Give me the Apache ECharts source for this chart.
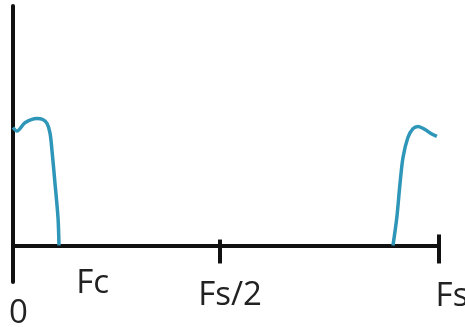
<!DOCTYPE html>
<html><head><meta charset="utf-8">
<script src="https://cdn.jsdelivr.net/npm/echarts@6/dist/echarts.min.js"></script>
<style>html,body{margin:0;padding:0;background:#fff}#c{width:465px;height:327px}</style>
</head><body><div id="c"></div>
<script>
// Frequency axis: 0 .. Fs mapped to 0 .. 100
const tickLabels = ['0', 'Fc', 'Fs/2', 'Fs'];
const tickValues = [0, 18.7, 48.6, 100];
const markTicks = [48.6, 100];
// Spectrum: baseband lobe and image near Fs
const band1 = [[0,1.0],[0.94,0.97],[2.8,1.04],[5.6,1.076],[7.0,1.068],[8.0,1.034],[8.7,0.95],[9.15,0.805],[9.86,0.525],[10.56,0.237],[10.8,0]];
const band2 = [[89.2,0],[90.1,0.237],[90.85,0.525],[91.55,0.746],[92.7,0.915],[93.9,0.99],[95.1,1.008],[96.7,0.983],[98.1,0.949],[99.5,0.924]];

const chart = echarts.init(document.getElementById('c'), null, {renderer:'canvas'});
const curveColor = '#2e96b8';
const axisColor = '#111';
const lineStyle = {color: curveColor, width: 3.5};
const font = {fontSize: 33, fontFamily: 'Open Sans', color: '#222'};
const richStyles = {
  a: Object.assign({padding: [30, 0, 0, 11]}, font),
  b: Object.assign({padding: [0, 0, 0, 0]}, font),
  c: Object.assign({padding: [12, 0, 0, 20]}, font),
  d: Object.assign({padding: [13, 0, 0, 26]}, font)
};
const keys = ['a','b','c','d'];
chart.setOption({
  animation: false,
  grid: {left: 13, right: 26, top: 6, bottom: 45, containLabel: false, outerBoundsMode: 'none'},
  xAxis: {
    type: 'value', min: 0, max: 100,
    axisLine: {onZero: true, lineStyle: {color: axisColor, width: 4}},
    axisTick: {show: false},
    splitLine: {show: false},
    axisLabel: {
      customValues: tickValues,
      margin: -15, hideOverlap: false, showMinLabel: true, showMaxLabel: true,
      formatter: function (v) {
        const i = tickValues.indexOf(v);
        return i < 0 ? '' : '{' + keys[i] + '|' + tickLabels[i] + '}';
      },
      rich: richStyles
    }
  },
  yAxis: {
    type: 'value', min: -0.31, max: 2.03,
    axisLine: {show: true, onZero: false, lineStyle: {color: axisColor, width: 4}},
    axisTick: {show: false}, axisLabel: {show: false}, splitLine: {show: false}
  },
  series: [
    {type: 'line', data: band1, smooth: 0.3, showSymbol: false, lineStyle: lineStyle, z: 3},
    {type: 'line', data: band2, smooth: 0.3, showSymbol: false, lineStyle: lineStyle, z: 3},
    {type: 'line', data: [], z: 4,
      markLine: {
        silent: true, symbol: ['none','none'], label: {show: false},
        lineStyle: {color: axisColor, width: 4, type: 'solid'},
        data: [
          [{coord: [markTicks[0], -0.153]}, {coord: [markTicks[0], 0.05]}],
          [{coord: [markTicks[1], -0.153]}, {coord: [markTicks[1], 0.093]}]
        ]
      }
    }
  ]
});
</script></body></html>
